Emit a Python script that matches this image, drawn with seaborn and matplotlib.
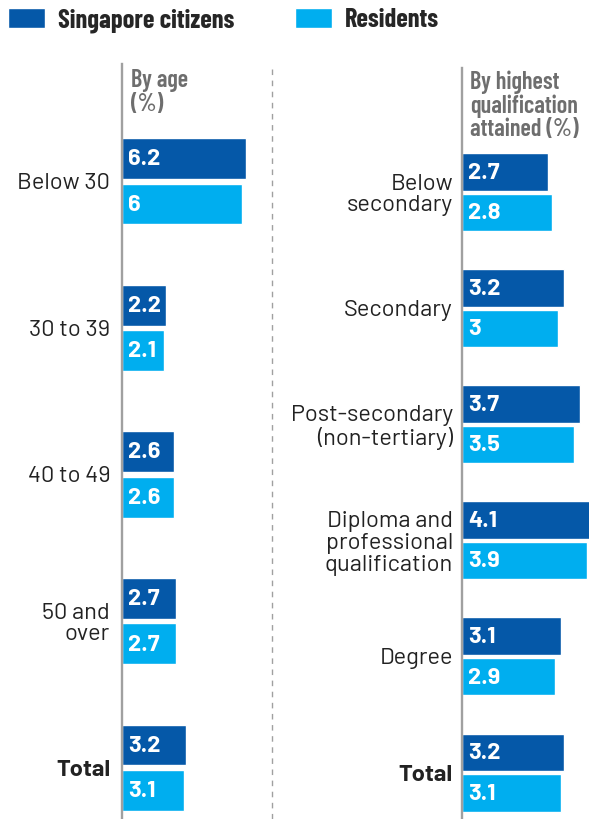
import pandas as pd
import matplotlib.pyplot as plt
from matplotlib.lines import Line2D
import seaborn as sns

# ─────────────────────────────────────────────
# Unemployment rate, citizens vs residents — by age and by qualification
# ─────────────────────────────────────────────

CITIZEN_COLOR  = "#0558A8"
RESIDENT_COLOR = "#00AEEF"
AXIS_GREY      = "#a0a0a0"
HEADER_GREY    = "#6e6e6e"
SERIES         = ["Singapore citizens", "Residents"]

age_groups    = ["Below 30", "30 to 39", "40 to 49", "50 and\nover", "Total"]
age_citizens  = [6.2, 2.2, 2.6, 2.7, 3.2]
age_residents = [6.0, 2.1, 2.6, 2.7, 3.1]

qual_groups    = ["Below\nsecondary", "Secondary", "Post-secondary\n(non-tertiary)",
                  "Diploma and\nprofessional\nqualification", "Degree", "Total"]
qual_citizens  = [2.7, 3.2, 3.7, 4.1, 3.1, 3.2]
qual_residents = [2.8, 3.0, 3.5, 3.9, 2.9, 3.1]

sns.set_style("white")
plt.rcParams["font.family"] = ["Barlow", "Roboto", "DejaVu Sans"]
CONDENSED = ["Barlow Condensed", "Roboto Condensed", "DejaVu Sans"]

W, H = 589, 819
fig = plt.figure(figsize=(W / 100, H / 100), dpi=100)

# axes placed in pixel terms (left, top, right)
ax_age  = fig.add_axes([122 / W, 0, 140 / W, (H - 64) / H])
ax_qual = fig.add_axes([462 / W, 0, 127 / W, (H - 68) / H])


def make_df(groups, cit, res):
    return pd.DataFrame({
        "group": groups * 2,
        "value": cit + res,
        "series": [SERIES[0]] * len(groups) + [SERIES[1]] * len(groups),
    })


def draw_panel(ax, groups, cit, res, header, head_size, head_y, xmax, ylim, width, gap, pad):
    df = make_df(groups, cit, res)
    sns.barplot(data=df, y="group", x="value", hue="series", hue_order=SERIES,
                order=groups, orient="h", palette=[CITIZEN_COLOR, RESIDENT_COLOR],
                width=width, gap=gap, saturation=1, ax=ax, legend=True)

    for container in ax.containers:
        for bar in container:
            ax.annotate(f"{bar.get_width():g}",
                        xy=(bar.get_x(), bar.get_y() + bar.get_height() / 2),
                        xytext=(4.5, -0.5), textcoords="offset points",
                        ha="left", va="center", color="white",
                        fontsize=17, fontweight="bold")

    ax.set_xlim(0, xmax)
    ax.set_ylim(*ylim)
    ax.set_xlabel("")
    ax.set_ylabel("")
    ax.set_xticks([])
    ax.tick_params(axis="y", length=0, pad=pad, labelsize=17, labelcolor="#222222")
    for lab in ax.get_yticklabels():
        lab.set_linespacing(1.05)
    ax.get_yticklabels()[-1].set_fontweight("bold")
    for s in ["top", "right", "bottom"]:
        ax.spines[s].set_visible(False)
    ax.spines["left"].set_color(AXIS_GREY)
    ax.spines["left"].set_linewidth(1.7)
    ax.patch.set_alpha(0)

    ax.text(0.065, head_y, header, transform=ax.transAxes, ha="left", va="top",
            fontsize=head_size, fontweight="semibold", color=HEADER_GREY, family=CONDENSED,
            linespacing=1.02)


draw_panel(ax_age, age_groups, age_citizens, age_residents, "By age\n(%)", 17.5, 0.993,
           xmax=7.0, ylim=(4.35, -0.8), width=0.62, gap=0.1, pad=8.5)
draw_panel(ax_qual, qual_groups, qual_citizens, qual_residents,
           "By highest\nqualification\nattained (%)", 17.5, 0.997,
           xmax=3.97, ylim=(5.4, -1.07), width=0.7, gap=0.08, pad=6.5)

# legend built from seaborn's handles
leg = ax_age.get_legend()
handles = leg.legend_handles
labels = [t.get_text() for t in leg.texts]
leg.remove()
ax_qual.get_legend().remove()
fig.legend(handles, labels, loc="upper left", bbox_to_anchor=(0.0, 1.0),
           ncol=2, frameon=False, borderaxespad=0, borderpad=0.3,
           handlelength=1.4, handleheight=0.8, handletextpad=0.5,
           columnspacing=2.3,
           prop={"family": CONDENSED, "weight": "bold", "size": 19})

# dashed divider between the two panels
fig.add_artist(Line2D([272 / W, 272 / W], [0, (H - 64) / H], transform=fig.transFigure,
                      color=AXIS_GREY, linewidth=1.0, linestyle=(0, (4, 4))))

plt.savefig("out.png", dpi=100)
plt.close()
